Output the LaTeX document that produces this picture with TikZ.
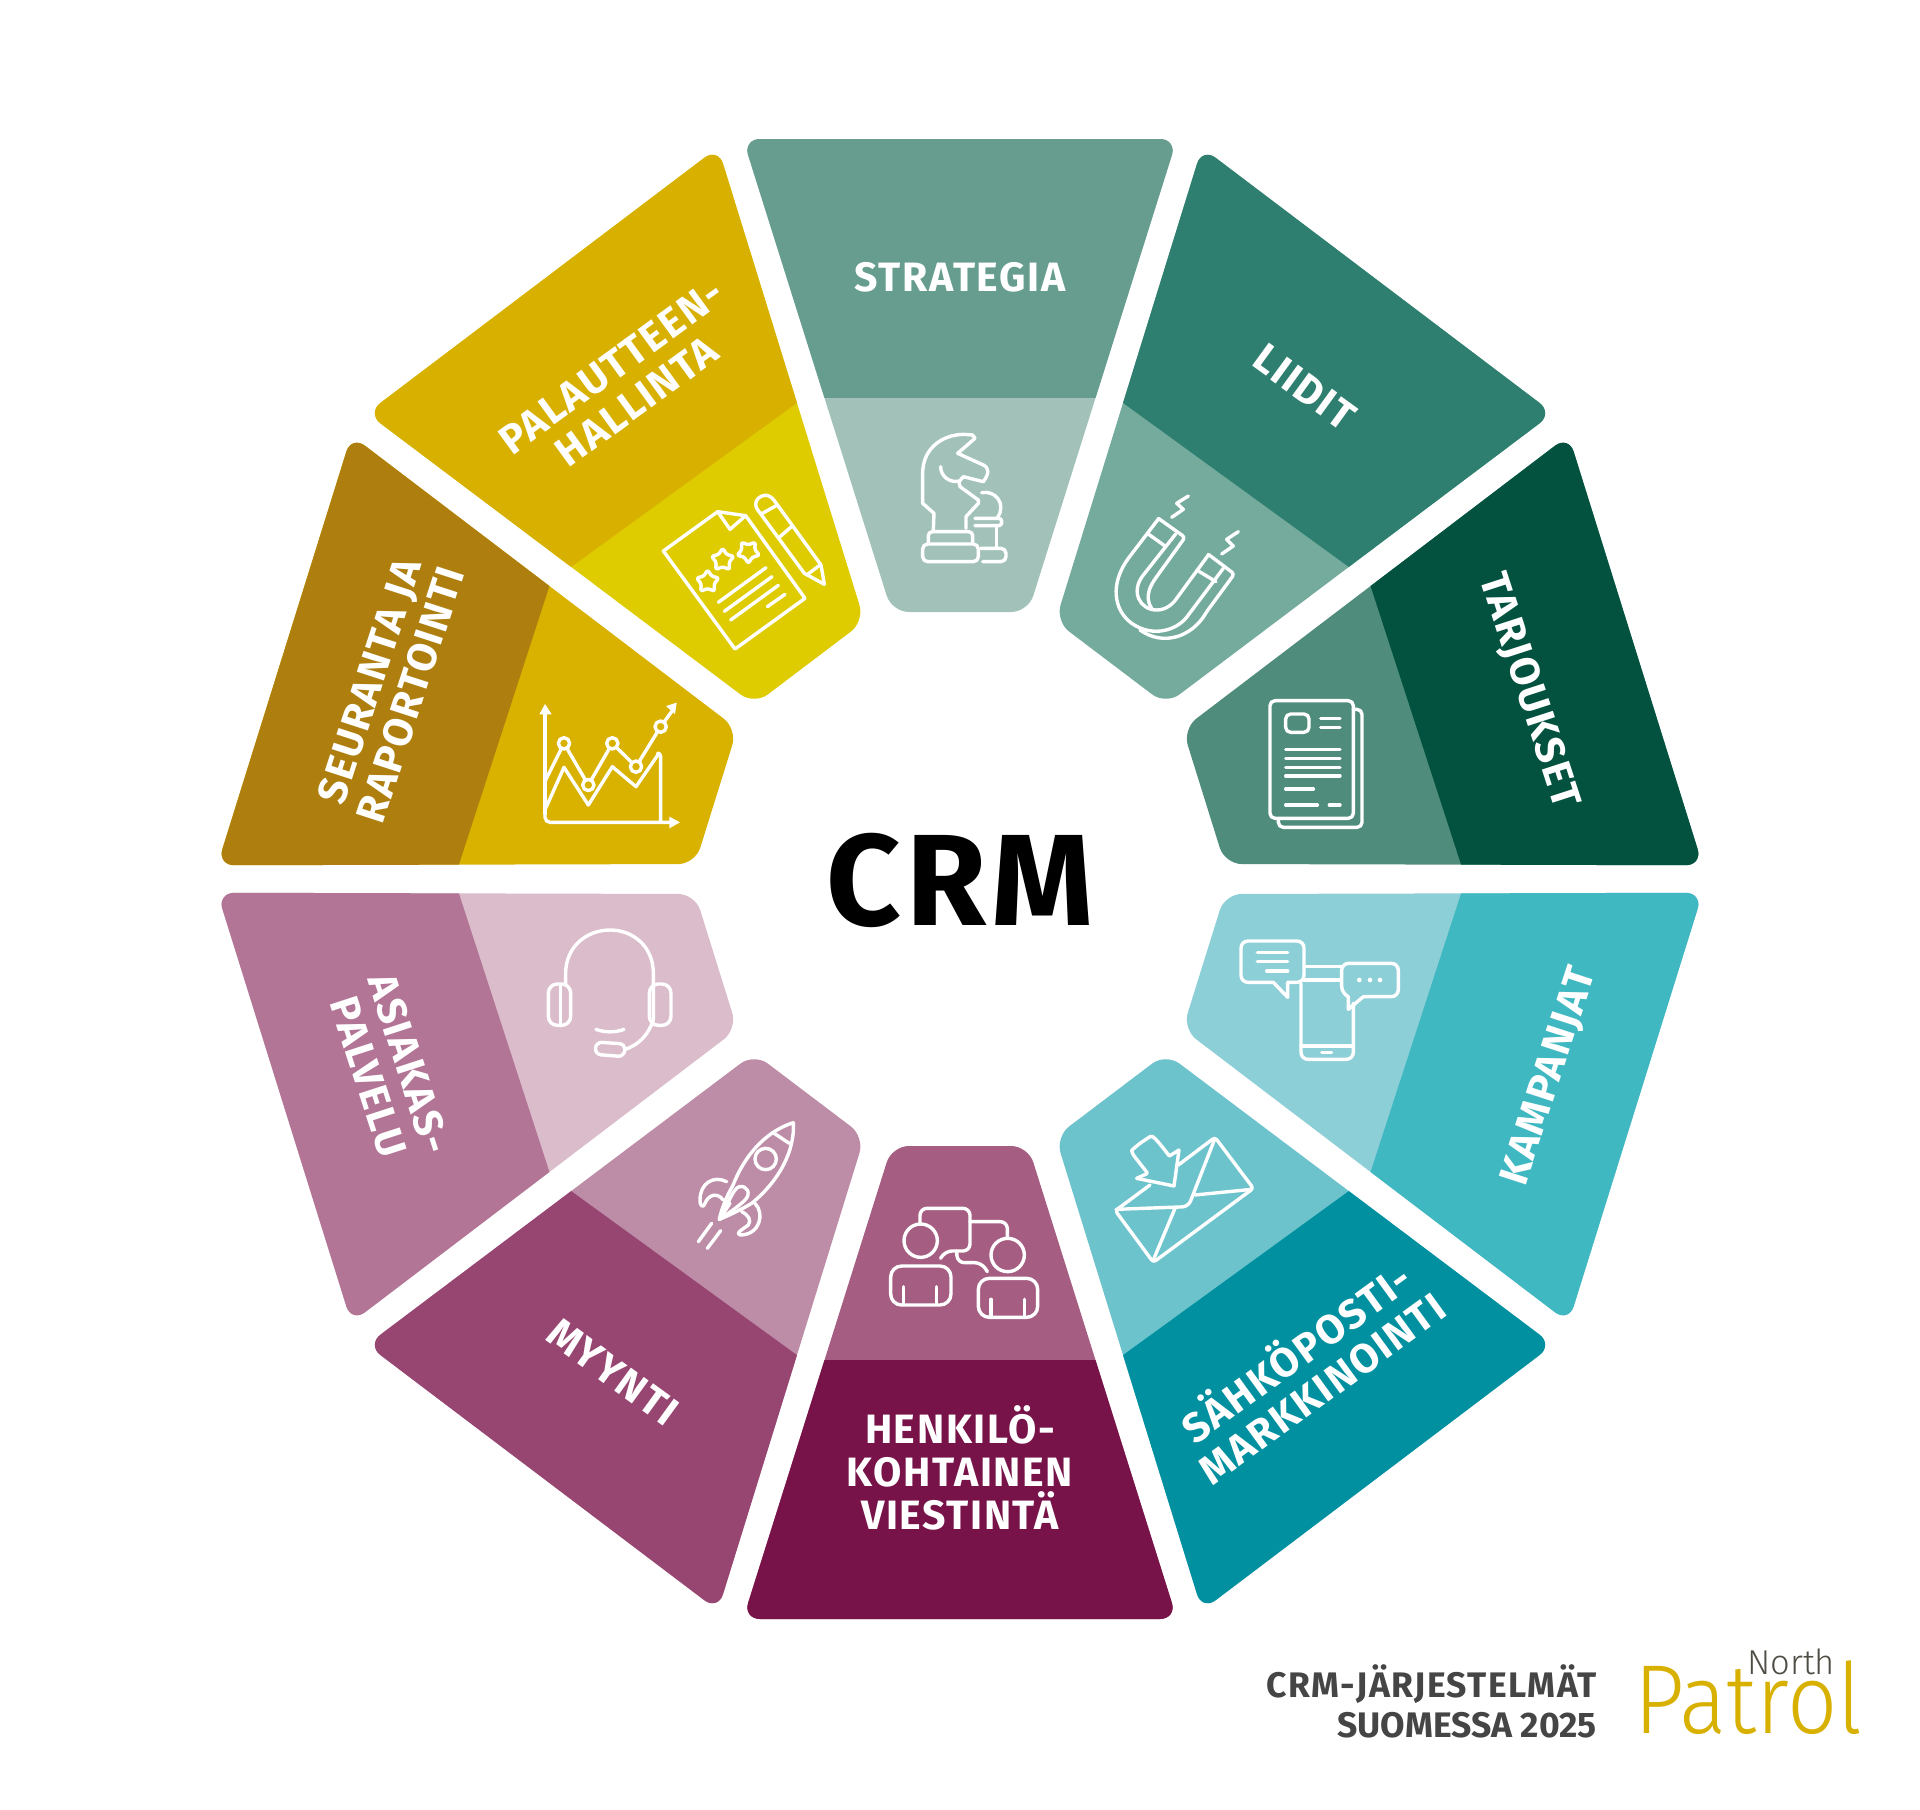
\documentclass[tikz,border=0pt]{standalone}
\usepackage{fontspec}
\setmainfont{Fira Sans}[LetterSpace=4]
\newfontfamily\lightfont{Fira Sans Light}
\definecolor{strA}{HTML}{679D8F}\definecolor{strB}{HTML}{A2C2B9}
\definecolor{liiA}{HTML}{2F7F70}\definecolor{liiB}{HTML}{74AB9D}
\definecolor{tarA}{HTML}{02523F}\definecolor{tarB}{HTML}{4F8C7C}
\definecolor{kamA}{HTML}{3FB8C2}\definecolor{kamB}{HTML}{8DCFD7}
\definecolor{sahA}{HTML}{0090A0}\definecolor{sahB}{HTML}{6CC3CC}
\definecolor{henA}{HTML}{771349}\definecolor{henB}{HTML}{A65D82}
\definecolor{myyA}{HTML}{974672}\definecolor{myyB}{HTML}{BD8CA7}
\definecolor{asiA}{HTML}{B27595}\definecolor{asiB}{HTML}{DBBCCB}
\definecolor{seuA}{HTML}{AE7F0F}\definecolor{seuB}{HTML}{D9B200}
\definecolor{palA}{HTML}{D8B000}\definecolor{palB}{HTML}{DECC00}
\definecolor{caption}{HTML}{454545}
\definecolor{northgrey}{HTML}{4F4D44}
\newcommand\wedgeseg[3]{%
  \begin{scope}
    \clip[shift={(960,879)},xscale=.96,rotate=-#1,rounded corners=17pt] (-226,-740) -- (226,-740) -- (71,-267) -- (-71,-267) -- cycle;
    \fill[#3,shift={(960,879)},rotate=-#1] (-300,-800) rectangle (300,-200);
    \fill[#2,shift={(960,879)},rotate=-#1] (-300,-800) rectangle (300,-481);
  \end{scope}}
\newcommand\seglabelfont{\fontsize{41}{43}\selectfont\bfseries}
\newcommand\iconstar[3]{\draw[ic,rounded corners=2.5pt,shift={(#1,#2)},rotate=#3]
  (90:36) -- (126:20) -- (162:36) -- (198:20) -- (234:36) -- (270:20) -- (306:36) -- (342:20) -- (18:36) -- (54:20) -- cycle;}
\tikzset{
  ic/.style={draw=white,line width=3.4pt,line cap=round,line join=round},
  seglabel/.style={text=white,font=\seglabelfont,align=center,inner sep=0pt},
  zoomed/.style n args={2}{shift={(#1,#2)},scale=1/3},
}
\begin{document}
\begin{tikzpicture}[x=1pt,y=-1pt]
\useasboundingbox (0,0) rectangle (1920,1810);
\fill[white] (0,0) rectangle (1920,1810);
\wedgeseg{0}{strA}{strB}
\wedgeseg{36}{liiA}{liiB}
\wedgeseg{72}{tarA}{tarB}
\wedgeseg{108}{kamA}{kamB}
\wedgeseg{144}{sahA}{sahB}
\wedgeseg{180}{henA}{henB}
\wedgeseg{216}{myyA}{myyB}
\wedgeseg{252}{asiA}{asiB}
\wedgeseg{288}{seuA}{seuB}
\wedgeseg{324}{palA}{palB}

\node[seglabel] (strategia) at (960,277) {STRATEGIA};
\node[seglabel,rotate=-36] (liidit) at (1305,387) {LIIDIT};
\node[seglabel,rotate=-72] (tarjoukset) at (1528,691) {TARJOUKSET};
\node[seglabel,rotate=72] (kampanjat) at (1550,1077) {KAMPANJAT};
\node[seglabel,rotate=36] (sahkoposti) at (1307,1368) {SÄHKÖPOSTI-\\MARKKINOINTI};
\node[seglabel] (henkilo) at (960,1468) {HENKILÖ-\\KOHTAINEN\\VIESTINTÄ};
\node[seglabel,rotate=-36] (myynti) at (613,1372) {MYYNTI};
\node[seglabel,rotate=-72] (asiakas) at (389,1070) {ASIAKAS-\\PALVELU};
\node[seglabel,rotate=72] (seuranta) at (390,688) {SEURANTA JA\\RAPORTOINTI};
\node[seglabel,rotate=36] (palaute) at (624,384) {PALAUTTEEN-\\HALLINTA};
\node[font=\fontsize{130}{130}\selectfont\bfseries,text=black,inner sep=0pt] (crm) at (960,880) {CRM};

\node[anchor=base east,font=\fontsize{35.5}{35.5}\selectfont\bfseries,text=caption,inner sep=0pt] (cap1) at (1597,1697) {CRM-JÄRJESTELMÄT};
\node[anchor=base east,font=\fontsize{35.5}{35.5}\selectfont\bfseries\addfontfeature{LetterSpace=0},text=caption,inner sep=0pt] (cap2) at (1597,1737) {SUOMESSA 2025};
\node[anchor=base west,font=\lightfont\fontsize{34.5}{34.5}\selectfont,text=northgrey,inner sep=0pt] (north) at (1747,1674) {North};
\node[anchor=base west,font=\lightfont\fontsize{98}{98}\selectfont,text=palA,inner sep=0pt,xscale=.9] (patrol) at (1634,1733) {Patrol};

% chess
\begin{scope}[zoomed={730}{120}]
\draw[ic] (610,1230) -- (612,1180) -- (578,1150) -- (578,1060) .. controls (578,990) and (630,945) .. (700,943) -- (728,945) -- (735,955) -- (683,1000) -- (760,1035) .. controls (778,1045) and (778,1060) .. (760,1085) -- (700,1070) -- (687,1085) -- (690,1100) -- (745,1140) -- (745,1150) -- (708,1190) -- (708,1225);
\draw[ic] (632,1040) .. controls (632,1070) and (660,1090) .. (690,1083);
\draw[ic,rounded corners=4pt] (595,1268) -- (595,1235) -- (728,1235) -- (728,1268);
\draw[ic,rounded corners=5pt] (578,1272) rectangle (745,1325);
\draw[ic] (755,1118) .. controls (795,1110) and (830,1150) .. (803,1192);
\draw[ic,rounded corners=3pt] (735,1195) -- (815,1195) -- (815,1217) -- (735,1217);
\draw[ic] (800,1220) -- (800,1282);
\draw[ic,rounded corners=5pt] (752,1285) -- (828,1285) -- (828,1325) -- (758,1325);
\end{scope}
% magnet
\begin{scope}[zoomed={1060}{440}]
\draw[ic,rounded corners=3pt] (295,235) -- (375,292) -- (290,410) .. controls (262,450) and (258,480) .. (275,505);
\draw[ic] (295,237) -- (205,355) .. controls (150,430) and (160,510) .. (215,550) .. controls (280,595) and (355,570) .. (385,525) -- (490,385);
\draw[ic] (347,282) -- (250,405) .. controls (210,455) and (240,510) .. (290,510) .. controls (320,510) and (340,490) .. (350,475) -- (445,345);
\draw[ic,rounded corners=3pt] (445,343) -- (523,402) -- (440,515) .. controls (395,590) and (310,620) .. (240,570);
\draw[ic] (262,280) -- (315,318) (415,393) -- (468,425);
\draw[ic] (385,168) -- (350,190) -- (370,208) -- (335,232);
\draw[ic] (535,275) -- (500,298) -- (520,318) -- (485,342);
\end{scope}
% document
\begin{scope}[zoomed={1060}{440}]
\draw[ic,rounded corners=5pt] (655,1138) -- (655,1162) -- (906,1162) -- (906,808) -- (880,808);
\draw[ic,rounded corners=5pt] (630,782) rectangle (880,1135);
\draw[ic,rounded corners=5pt] (677,822) rectangle (747,877);
\draw[ic] (782,835) -- (840,835) (782,862) -- (840,862) (677,929) -- (840,929) (677,955) -- (840,955) (677,982) -- (840,982) (677,1008) -- (840,1008) (677,1047) -- (760,1047) (677,1095) -- (772,1095) (808,1095) -- (840,1095);
\end{scope}
% feedback
\begin{scope}[zoomed={640}{470}]
\draw[ic] (233,125) -- (70,243) -- (285,537) -- (495,385) -- (317,137) -- cycle;
\draw[ic] (233,125) -- (270,178) -- (317,137);
\iconstar{325}{245}{0}
\iconstar{248}{270}{-36}
\iconstar{203}{335}{-36}
\draw[ic] (235,397) -- (378,293) (253,424) -- (396,320) (272,450) -- (415,346) (382,410) -- (435,373);
\draw[ic] (352,118) -- (493,310) -- (553,343) -- (543,285) -- (403,92) .. controls (385,68) and (365,75) .. (355,85) .. controls (345,95) and (345,108) .. (352,118);
\draw[ic] (367,130) -- (412,105) (420,200) -- (452,172) (500,315) -- (540,285);
\end{scope}
% chart
\begin{scope}[zoomed={510}{680}]
\draw[ic] (105,400) -- (105,90);
\fill[white] (88,103) -- (105,72) -- (125,103) -- cycle;
\draw[ic,rounded corners=5pt] (105,395) -- (105,427) -- (485,427);
\fill[white] (478,410) -- (510,427) -- (478,445) -- cycle;
\draw[ic,rounded corners=3pt] (452,427) -- (452,220) -- (447,220);
\draw[ic] (107,385) -- (162,262) -- (235,375) -- (307,260) -- (378,320) -- (447,220);
\draw[ic] (107,300) -- (162,190) -- (235,315) -- (307,190) -- (378,260) -- (452,140) -- (490,88);
\fill[white] (468,78) -- (500,68) -- (495,102) -- cycle;
\foreach \px/\py in {162/190,235/315,307/190,378/260,452/140}
  \draw[ic,fill=seuB] (\px,\py) circle[radius=17];
\end{scope}
% headset
\begin{scope}[zoomed={520}{910}]
\draw[ic] (137,225) -- (137,190) .. controls (137,110) and (200,60) .. (270,60) .. controls (340,60) and (400,110) .. (400,190) -- (400,330) .. controls (385,375) and (355,405) .. (316,418);
\draw[ic,rounded corners=9pt] (85,222) rectangle (152,346);
\draw[ic] (122,225) -- (122,340);
\draw[ic,rounded corners=9pt] (388,222) rectangle (453,346);
\draw[ic] (228,358) .. controls (255,368) and (285,368) .. (312,358);
\draw[ic,rounded corners=6pt] (228,396) -- (316,402) -- (312,440) -- (225,433) -- cycle;
\end{scope}
% rocket
\begin{scope}[zoomed={680}{1100}]
\draw[ic] (118,358) .. controls (125,320) and (150,270) .. (158,258) .. controls (200,150) and (270,90) .. (340,68) .. controls (345,150) and (300,240) .. (215,310) .. controls (190,325) and (150,345) .. (118,358);
\draw[ic] (278,97) -- (328,130);
\draw[ic] (257,177) circle[radius=32];
\draw[ic] (140,245) .. controls (100,225) and (60,250) .. (60,300) .. controls (60,320) and (70,325) .. (75,310) .. controls (85,285) and (110,275) .. (130,300);
\draw[ic] (225,310) .. controls (255,340) and (240,405) .. (180,405) .. controls (165,400) and (185,390) .. (205,375) .. controls (215,360) and (205,345) .. (185,335);
\draw[ic] (118,358) .. controls (145,310) and (160,265) .. (178,260) .. controls (200,255) and (215,280) .. (195,300) .. controls (175,320) and (145,340) .. (118,358);
\draw[ic] (150,310) -- (118,358);
\draw[ic] (55,425) -- (95,370) (82,445) -- (122,392);
\end{scope}
% people
\begin{scope}[zoomed={870}{1190}]
\draw[ic] (152,152) circle[radius=50];
\draw[ic,rounded corners=11pt] (62,345) -- (62,228) -- (243,228) -- (243,345) -- cycle;
\draw[ic] (100,290) -- (100,340) (200,290) -- (200,340);
\draw[ic] (413,195) circle[radius=50];
\draw[ic,rounded corners=11pt] (325,382) -- (325,265) -- (503,265) -- (503,382) -- cycle;
\draw[ic] (363,328) -- (363,378) (463,328) -- (463,378);
\draw[ic,rounded corners=7pt] (150,100) -- (150,55) -- (300,55) -- (300,183) -- (225,183) -- (212,205);
\draw[ic,rounded corners=7pt] (260,183) -- (262,218) -- (335,218) -- (352,245);
\draw[ic,rounded corners=7pt] (300,95) -- (412,95) -- (412,140);
\end{scope}
% envelope
\begin{scope}[zoomed={1100}{1120}]
\draw[ic,rounded corners=3pt] (235,135) -- (345,52) -- (460,205) -- (160,427) -- (46,272) -- (150,195);
\draw[ic,rounded corners=6pt] (48,268) -- (265,260) -- (345,55);
\draw[ic] (285,225) -- (455,208) (225,265) -- (160,420);
\draw[ic,rounded corners=1pt] (110,175) -- (143,160) -- (100,105) -- (95,92);
\draw[ic] (95,92) .. controls (110,75) and (135,60) .. (150,50) .. controls (158,46) and (165,52) .. (208,108) -- (237,90) -- (222,198) -- (110,175);
\end{scope}
% phone
\begin{scope}[zoomed={1220}{920}]
\draw[ic,rounded corners=7pt] (160,187) -- (63,187) -- (63,63) -- (252,63) -- (252,187) -- (203,187);
\draw[ic] (160,187) -- (203,232) -- (203,187);
\draw[ic] (112,97) -- (203,97) (112,125) -- (203,125) (140,153) -- (203,153);
\draw[ic,rounded corners=7pt] (243,190) -- (243,418) -- (400,418) -- (400,250);
\draw[ic] (252,140) -- (368,140) (252,180) -- (362,180) (243,378) -- (400,378) (305,398) -- (335,398);
\draw[ic,rounded corners=7pt] (385,230) -- (365,220) -- (365,130) -- (535,130) -- (535,230) -- (430,230);
\draw[ic] (430,230) -- (385,268) -- (385,230);
\fill[white] (418,180) circle[radius=7] (450,180) circle[radius=7] (480,180) circle[radius=7];
\end{scope}
\end{tikzpicture}
\end{document}
